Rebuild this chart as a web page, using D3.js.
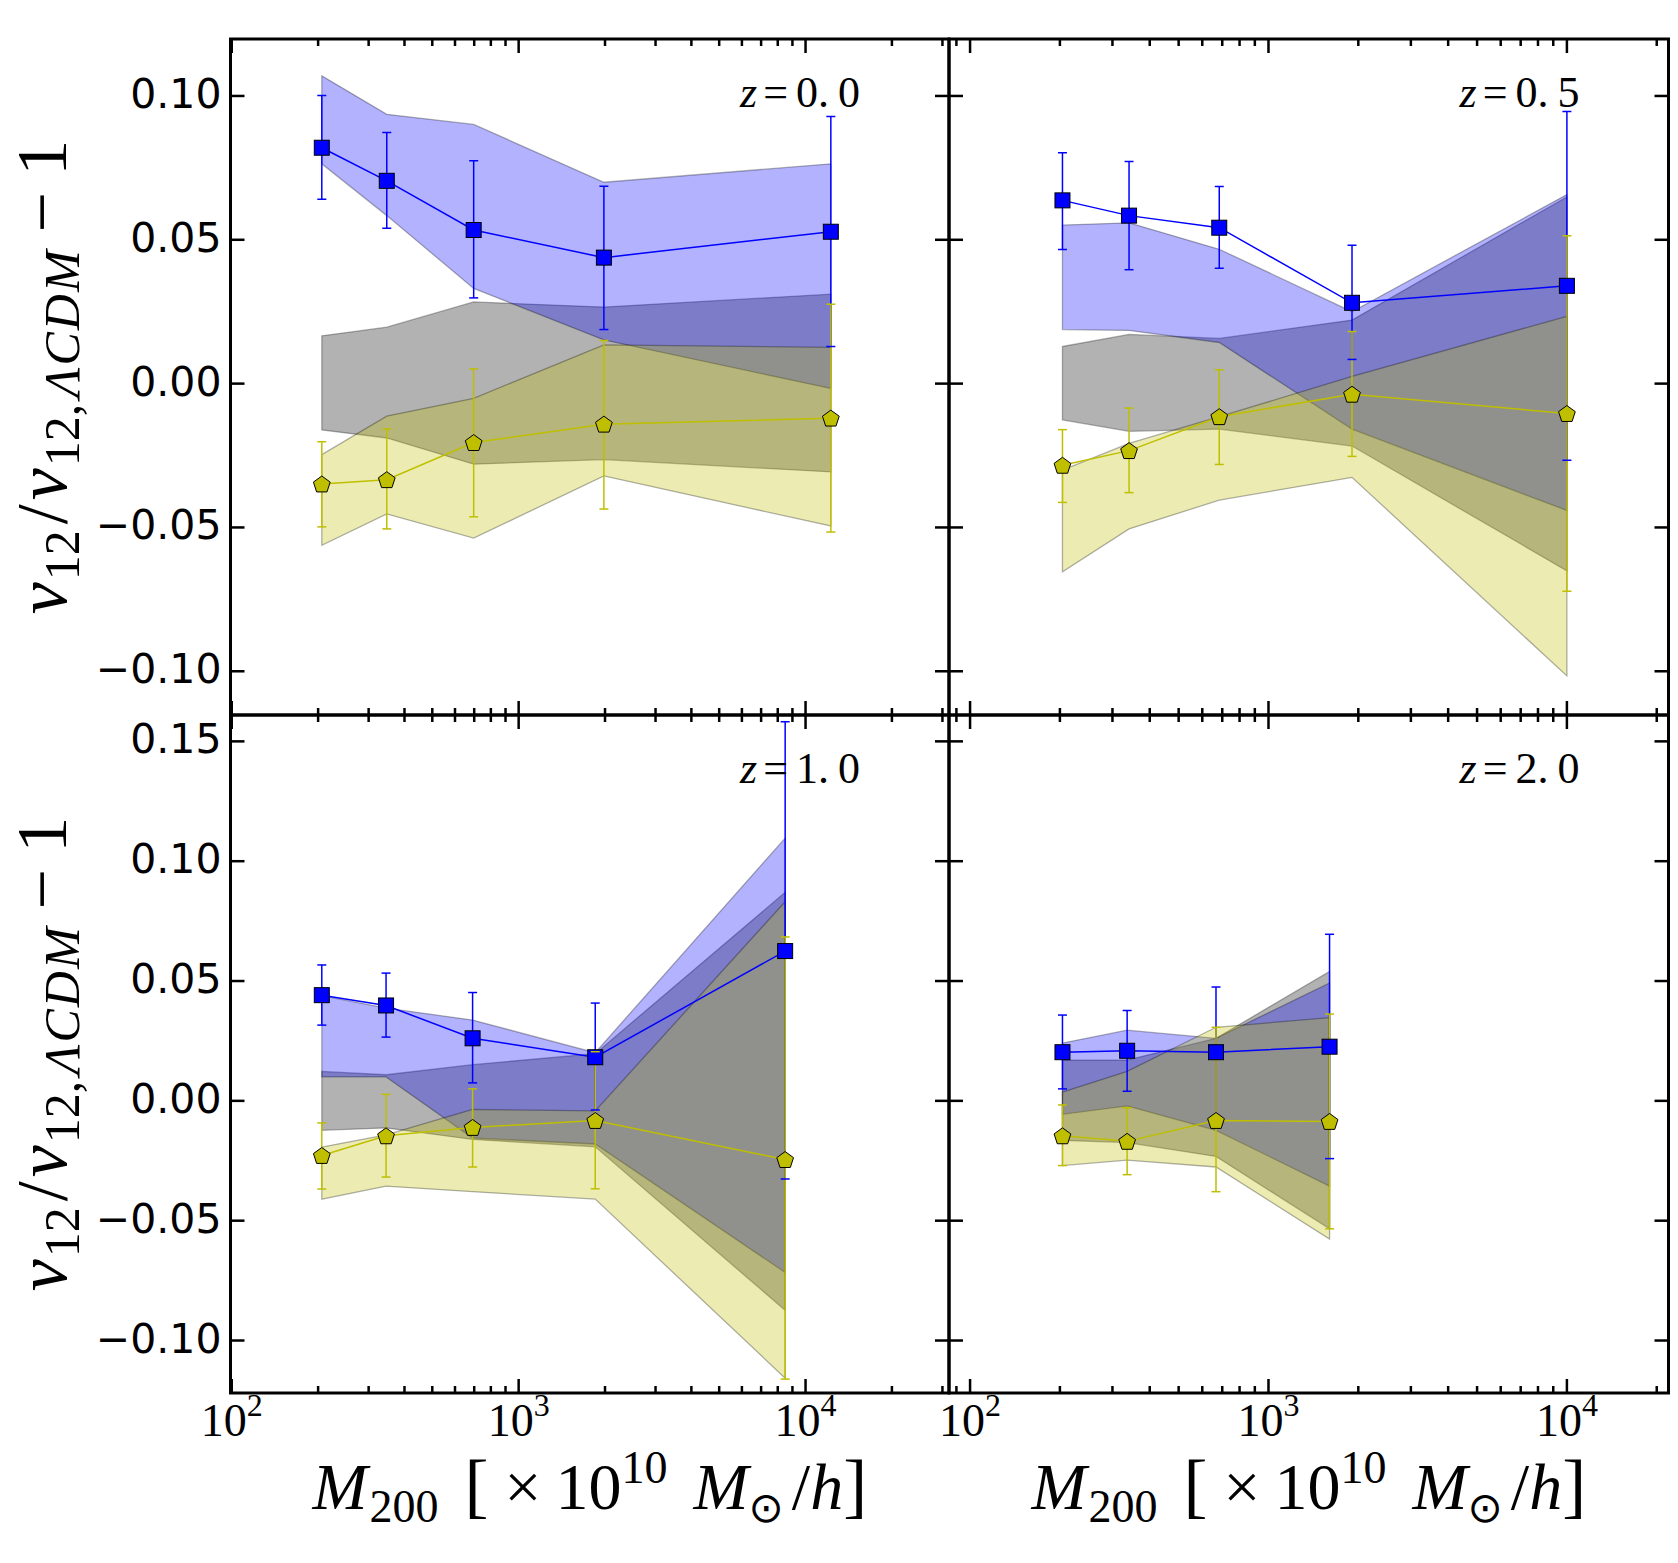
<!DOCTYPE html>
<html>
<head>
<meta charset="utf-8">
<script src="https://cdn.jsdelivr.net/npm/d3@7"></script>
<style>
  body { margin: 0; background: #fff; }
</style>
</head>
<body>
<svg id="chart"></svg>
<script>
// one entry per panel: z = 0.0, 0.5, 1.0, 2.0
const redshifts = ["0.0", "0.5", "1.0", "2.0"];

// halo mass bins [x 1e10 Msun/h]
const massBins = [
  [206, 347, 697, 1982, 12250],
  [204, 341, 684, 1905, 10000],
  [206, 345, 691, 1849, 8490],
  [204, 336, 667, 1602]
];

// blue model (squares) with error bar ends
const blueMean = [
  [0.0820, 0.0705, 0.0534, 0.0438, 0.0528],
  [0.0637, 0.0584, 0.0542, 0.0281, 0.0340],
  [0.0441, 0.0398, 0.0261, 0.0182, 0.0625],
  [0.0203, 0.0209, 0.0203, 0.0226]
];
const blueErrTop = [
  [0.1002, 0.0873, 0.0775, 0.0686, 0.0929],
  [0.0803, 0.0772, 0.0685, 0.0481, 0.0946],
  [0.0567, 0.0533, 0.0452, 0.0408, 0.1582],
  [0.0358, 0.0377, 0.0475, 0.0695]
];
const blueErrBot = [
  [0.0641, 0.0540, 0.0298, 0.0188, 0.0129],
  [0.0466, 0.0396, 0.0401, 0.0084, -0.0266],
  [0.0316, 0.0266, 0.0075, -0.0038, -0.0326],
  [0.0050, 0.0040, -0.0069, -0.0241]
];

// yellow model (pentagons)
const yellowMean = [
  [-0.0349, -0.0334, -0.0205, -0.0141, -0.0120],
  [-0.0284, -0.0233, -0.0115, -0.0037, -0.0104],
  [-0.0228, -0.0146, -0.0111, -0.0082, -0.0245],
  [-0.0146, -0.0169, -0.0082, -0.0086]
];
const yellowErrTop = [
  [-0.0202, -0.0158, 0.0051, 0.0150, 0.0276],
  [-0.0160, -0.0085, 0.0048, 0.0181, 0.0514],
  [-0.0092, 0.0027, 0.0050, 0.0205, 0.0684],
  [-0.0017, -0.0029, 0.0307, 0.0362]
];
const yellowErrBot = [
  [-0.0498, -0.0505, -0.0463, -0.0436, -0.0516],
  [-0.0413, -0.0379, -0.0281, -0.0253, -0.0722],
  [-0.0368, -0.0318, -0.0276, -0.0367, -0.1161],
  [-0.0270, -0.0308, -0.0379, -0.0534]
];

// shaded bands (upper / lower edge)
const blueBandTop = [
  [0.1070, 0.0936, 0.0901, 0.0700, 0.0764],
  [0.0551, 0.0559, 0.0467, 0.0250, 0.0657],
  [0.0439, 0.0387, 0.0337, 0.0201, 0.1096],
  [0.0241, 0.0295, 0.0261, 0.0492]
];
const blueBandBot = [
  [0.0764, 0.0584, 0.0331, 0.0152, -0.0017],
  [0.0188, 0.0185, 0.0143, -0.0158, -0.0441],
  [0.0100, 0.0100, -0.0155, -0.0180, -0.0716],
  [-0.0056, -0.0021, -0.0123, -0.0356]
];
const greyBandTop = [
  [0.0166, 0.0196, 0.0284, 0.0266, 0.0311],
  [0.0129, 0.0171, 0.0157, 0.0221, 0.0649],
  [0.0123, 0.0109, 0.0151, 0.0197, 0.0870],
  [0.0170, 0.0170, 0.0261, 0.0540]
];
const greyBandBot = [
  [-0.0161, -0.0189, -0.0280, -0.0264, -0.0307],
  [-0.0126, -0.0166, -0.0158, -0.0217, -0.0651],
  [-0.0123, -0.0113, -0.0161, -0.0192, -0.0874],
  [-0.0165, -0.0174, -0.0232, -0.0534]
];
const yellowBandTop = [
  [-0.0247, -0.0113, -0.0051, 0.0135, 0.0126],
  [-0.0301, -0.0208, -0.0115, 0.0025, 0.0234],
  [-0.0193, -0.0142, -0.0036, -0.0042, 0.0831],
  [0.0036, 0.0123, 0.0307, 0.0347]
];
const yellowBandBot = [
  [-0.0562, -0.0453, -0.0537, -0.0321, -0.0495],
  [-0.0654, -0.0505, -0.0405, -0.0326, -0.1016],
  [-0.0410, -0.0356, -0.0379, -0.0410, -0.1157],
  [-0.0270, -0.0247, -0.0276, -0.0577]
];

// tick values
const yTicksTop = [-0.10, -0.05, 0.00, 0.05, 0.10];
const yTicksBottom = [-0.10, -0.05, 0.00, 0.05, 0.10, 0.15];
const xDecades = [1, 2, 3, 4, 5];

// ---- layout ----
const W = 1678, H = 1563;
const colX = [230.5, 949, 1668.5];
const rowY = [39, 715, 1393];
const serif = "'Liberation Serif', 'DejaVu Serif', serif";
const sans = "'DejaVu Sans', sans-serif";

const panels = [
  { col: 0, row: 0, xdom: [99, 31623], ydom: [-0.1152, 0.1198], yticks: yTicksTop },
  { col: 1, row: 0, xdom: [85, 21900], ydom: [-0.1152, 0.1198], yticks: yTicksTop },
  { col: 0, row: 1, xdom: [99, 31623], ydom: [-0.1219, 0.1610], yticks: yTicksBottom },
  { col: 1, row: 1, xdom: [85, 21900], ydom: [-0.1219, 0.1610], yticks: yTicksBottom }
];

const svg = d3.select("#chart").attr("width", W).attr("height", H);
svg.append("rect").attr("width", W).attr("height", H).attr("fill", "#fff");

const fmtY = v => (v < 0 ? "\u2212" : "") + Math.abs(v).toFixed(2);

function pentagon(cx, cy, r) {
  const pts = d3.range(5).map(k => {
    const a = -Math.PI / 2 + k * 2 * Math.PI / 5;
    return [cx + r * Math.cos(a), cy + r * Math.sin(a)];
  });
  return "M" + pts.map(p => p.join(",")).join("L") + "Z";
}

panels.forEach((p, i) => {
  const x0 = colX[p.col], x1 = colX[p.col + 1];
  const y0 = rowY[p.row], y1 = rowY[p.row + 1];
  const x = d3.scaleLog().domain(p.xdom).range([x0, x1]);
  const y = d3.scaleLinear().domain(p.ydom).range([y1, y0]);
  const m = massBins[i];

  const g = svg.append("g");
  const clipId = "clip" + i;
  svg.append("clipPath").attr("id", clipId)
    .append("rect").attr("x", x0).attr("y", y0).attr("width", x1 - x0).attr("height", y1 - y0);
  const plot = g.append("g").attr("clip-path", `url(#${clipId})`);

  // bands: grey, blue, yellow
  const bands = [
    { top: greyBandTop[i], bot: greyBandBot[i], color: "#000000" },
    { top: blueBandTop[i], bot: blueBandBot[i], color: "#0000ff" },
    { top: yellowBandTop[i], bot: yellowBandBot[i], color: "#bfbf00" }
  ];
  bands.forEach(b => {
    const area = d3.area()
      .x((d, k) => x(m[k]))
      .y0((d, k) => y(b.bot[k]))
      .y1((d, k) => y(b.top[k]));
    plot.append("path")
      .attr("d", area(m))
      .attr("fill", b.color)
      .attr("fill-opacity", 0.3)
      .attr("stroke", "#000")
      .attr("stroke-opacity", 0.3)
      .attr("stroke-width", 1.3);
  });

  const series = [
    { mean: blueMean[i], top: blueErrTop[i], bot: blueErrBot[i], color: "#0000ff", marker: "square" },
    { mean: yellowMean[i], top: yellowErrTop[i], bot: yellowErrBot[i], color: "#bfbf00", marker: "pent" }
  ];

  // vertical error bars of both series go underneath lines and markers
  series.forEach(s => {
    m.forEach((mv, k) => {
      plot.append("line").attr("x1", x(mv)).attr("x2", x(mv))
        .attr("y1", y(s.top[k])).attr("y2", y(s.bot[k]))
        .attr("stroke", s.color).attr("stroke-width", 1.5);
    });
  });

  // then each series: line, markers, caps
  series.forEach(s => {
    const line = d3.line().x((d, k) => x(m[k])).y(d => y(d));
    plot.append("path").attr("d", line(s.mean))
      .attr("fill", "none").attr("stroke", s.color).attr("stroke-width", 1.5);
    s.mean.forEach((v, k) => {
      const cx = x(m[k]), cy = y(v);
      if (s.marker === "square") {
        plot.append("rect").attr("x", cx - 7.5).attr("y", cy - 7.5)
          .attr("width", 15).attr("height", 15)
          .attr("fill", s.color).attr("stroke", "#000").attr("stroke-width", 1);
      } else {
        plot.append("path").attr("d", pentagon(cx, cy + 0.8, 8.8))
          .attr("fill", s.color).attr("stroke", "#000").attr("stroke-width", 1);
      }
    });
    m.forEach((mv, k) => {
      const cx = x(mv);
      [s.top[k], s.bot[k]].forEach(v => {
        plot.append("line").attr("x1", cx - 4.5).attr("x2", cx + 4.5)
          .attr("y1", y(v)).attr("y2", y(v))
          .attr("stroke", s.color).attr("stroke-width", 1.5);
      });
    });
  });

  // ticks (inward, all four sides)
  const tk = g.append("g").attr("stroke", "#000").attr("stroke-width", 2.5);
  p.yticks.forEach(t => {
    const yy = y(t);
    tk.append("line").attr("x1", x0).attr("x2", x0 + 14).attr("y1", yy).attr("y2", yy);
    tk.append("line").attr("x1", x1 - 14).attr("x2", x1).attr("y1", yy).attr("y2", yy);
  });
  xDecades.forEach(d => {
    for (let k = 1; k <= 9; k++) {
      const v = k * Math.pow(10, d);
      if (v < p.xdom[0] || v > p.xdom[1]) continue;
      const xx = x(v), len = k === 1 ? 14 : 7;
      tk.append("line").attr("x1", xx).attr("x2", xx).attr("y1", y1).attr("y2", y1 - len);
      tk.append("line").attr("x1", xx).attr("x2", xx).attr("y1", y0).attr("y2", y0 + len);
    }
  });

  // frame
  g.append("rect").attr("x", x0).attr("y", y0).attr("width", x1 - x0).attr("height", y1 - y0)
    .attr("fill", "none").attr("stroke", "#000").attr("stroke-width", 3);

  // y tick labels on left column
  if (p.col === 0) {
    p.yticks.forEach(t => {
      g.append("text").attr("x", x0 - 9).attr("y", y(t) + 12)
        .attr("text-anchor", "end").attr("font-family", sans).attr("font-size", 41)
        .text(fmtY(t));
    });
  }

  // x tick labels on bottom row
  if (p.row === 1) {
    xDecades.forEach(d => {
      const v = Math.pow(10, d);
      if (v < p.xdom[0] || v > p.xdom[1]) return;
      const t = g.append("text").attr("x", x(v)).attr("y", 1436)
        .attr("text-anchor", "middle").attr("font-family", serif).attr("font-size", 46);
      t.append("tspan").text("10");
      t.append("tspan").attr("dy", -20).attr("font-size", 32).text(d);
    });
  }

  // redshift label
  const zl = g.append("text").attr("x", x1 - 89).attr("y", y0 + 68)
    .attr("text-anchor", "end").attr("font-family", serif).attr("font-size", 44);
  zl.append("tspan").attr("font-style", "italic").text("z");
  zl.append("tspan").attr("dx", 6).text("=");
  zl.append("tspan").attr("dx", 8).text(redshifts[i].slice(0, 2));
  zl.append("tspan").attr("dx", 9).text(redshifts[i].slice(2));
});

// axis labels
function yLabel(cy) {
  const t = svg.append("text")
    .attr("transform", `translate(66,${cy}) rotate(-90)`)
    .attr("text-anchor", "middle").attr("font-family", serif).attr("font-size", 72);
  t.append("tspan").attr("font-style", "italic").text("v");
  t.append("tspan").attr("font-size", 50).attr("dy", 13).attr("dx", 2).text("12");
  t.append("tspan").attr("dy", -13).attr("dx", 6).text("/");
  t.append("tspan").attr("font-style", "italic").attr("dx", 4).text("v");
  t.append("tspan").attr("font-size", 50).attr("dy", 13).attr("dx", 2).text("12,");
  t.append("tspan").attr("font-size", 50).attr("font-style", "italic").attr("dx", 6)
    .attr("letter-spacing", 2).text("\u039BCDM");
  t.append("tspan").attr("dy", -13).attr("dx", 16).text("\u2212");
  t.append("tspan").attr("dx", 16).text("1");
}
yLabel((rowY[0] + rowY[1]) / 2);
yLabel((rowY[1] + rowY[2]) / 2);

function xLabel(cx) {
  const t = svg.append("text").attr("x", cx).attr("y", 1509)
    .attr("text-anchor", "middle").attr("font-family", serif).attr("font-size", 66);
  t.append("tspan").attr("font-style", "italic").text("M");
  t.append("tspan").attr("font-size", 46).attr("dy", 13).attr("dx", 2).text("200");
  t.append("tspan").attr("dy", -13).attr("dx", 26).attr("font-size", 72).text("[");
  t.append("tspan").attr("dx", 16).text("\u00D7");
  t.append("tspan").attr("dx", 14).text("10");
  t.append("tspan").attr("font-size", 46).attr("dy", -26).text("10");
  t.append("tspan").attr("dy", 26).attr("dx", 26).attr("font-style", "italic").text("M");
  t.append("tspan").attr("font-size", 42).attr("dy", 13).attr("font-family", sans).text("\u2299");
  t.append("tspan").attr("dy", -13).attr("dx", 8).text("/");
  t.append("tspan").attr("font-style", "italic").text("h");
  t.append("tspan").attr("font-size", 72).text("]");
}
xLabel((colX[0] + colX[1]) / 2);
xLabel((colX[1] + colX[2]) / 2);
</script>
</body>
</html>
